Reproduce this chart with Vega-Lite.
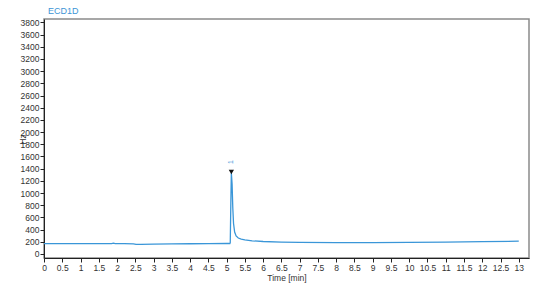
{
  "$schema": "https://vega.github.io/schema/vega-lite/v6.json",
  "autosize": "none",
  "width": 485,
  "height": 239,
  "padding": {"left": 44, "top": 19, "right": 25, "bottom": 31},
  "background": "white",
  "config": {
    "font": "Liberation Sans",
    "view": {"stroke": "#8a8a8a", "strokeWidth": 1.5},
    "axis": {"domainColor": "#222", "tickColor": "#222", "labelColor": "#333", "labelFontSize": 8.5, "titleFontSize": 8.5, "titleFontWeight": "normal", "titleColor": "#333", "grid": false, "tickSize": 4, "labelPadding": 1}
  },
  "title": {"text": "ECD1D", "anchor": "start", "frame": "group", "fontSize": 9, "fontWeight": "normal", "color": "#3d95d6", "dx": 4, "offset": 2},
  "datasets": {
    "trace": [
      {"t": 0, "v": 170}, {"t": 0.5, "v": 170}, {"t": 1, "v": 170}, {"t": 1.5, "v": 170},
      {"t": 1.85, "v": 171}, {"t": 1.9, "v": 179}, {"t": 1.95, "v": 170}, {"t": 2.2, "v": 169},
      {"t": 2.45, "v": 167}, {"t": 2.52, "v": 157}, {"t": 2.65, "v": 158}, {"t": 3, "v": 162},
      {"t": 3.5, "v": 165}, {"t": 4, "v": 168}, {"t": 4.5, "v": 170}, {"t": 5, "v": 172},
      {"t": 5.09, "v": 172}, {"t": 5.1, "v": 185}, {"t": 5.115, "v": 800}, {"t": 5.13, "v": 1330},
      {"t": 5.15, "v": 1150}, {"t": 5.17, "v": 750}, {"t": 5.19, "v": 500}, {"t": 5.22, "v": 360},
      {"t": 5.26, "v": 295}, {"t": 5.32, "v": 262}, {"t": 5.4, "v": 245}, {"t": 5.5, "v": 232},
      {"t": 5.7, "v": 216}, {"t": 6, "v": 205}, {"t": 6.5, "v": 196}, {"t": 7, "v": 190},
      {"t": 8, "v": 186}, {"t": 9, "v": 186}, {"t": 10, "v": 189}, {"t": 11, "v": 195},
      {"t": 12, "v": 203}, {"t": 13, "v": 210}
    ],
    "peaks": [{"t": 5.13, "v": 1330, "label": "1"}]
  },
  "encoding": {
    "x": {"field": "t", "type": "quantitative", "scale": {"domain": [0, 13.28], "nice": false, "zero": false},
          "axis": {"values": [0,0.5,1,1.5,2,2.5,3,3.5,4,4.5,5,5.5,6,6.5,7,7.5,8,8.5,9,9.5,10,10.5,11,11.5,12,12.5,13], "format": "~g", "title": "Time [min]", "titlePadding": 2, "labelFlush": false, "labelOverlap": false}},
    "y": {"field": "v", "type": "quantitative", "scale": {"domain": [-66, 3856], "nice": false, "zero": false},
          "axis": {"values": [0,200,400,600,800,1000,1200,1400,1600,1800,2000,2200,2400,2600,2800,3000,3200,3400,3600,3800], "format": "d", "title": "Hz", "titleX": -22, "titleY": 120, "titleAngle": 270, "titleAlign": "center", "titleBaseline": "middle", "labelOverlap": false, "labelFlush": false}}
  },
  "layer": [
    {
      "data": {"name": "trace"},
      "mark": {"type": "line", "color": "#3a96d8", "strokeWidth": 1.3, "clip": true}
    },
    {
      "data": {"name": "peaks"},
      "mark": {"type": "point", "shape": "triangle-down", "filled": true, "color": "#111", "size": 28, "yOffset": -1, "opacity": 1}
    },
    {
      "data": {"name": "peaks"},
      "mark": {"type": "text", "color": "#3a96d8", "fontSize": 7, "angle": 270, "yOffset": -11},
      "encoding": {"text": {"field": "label"}}
    }
  ]
}
